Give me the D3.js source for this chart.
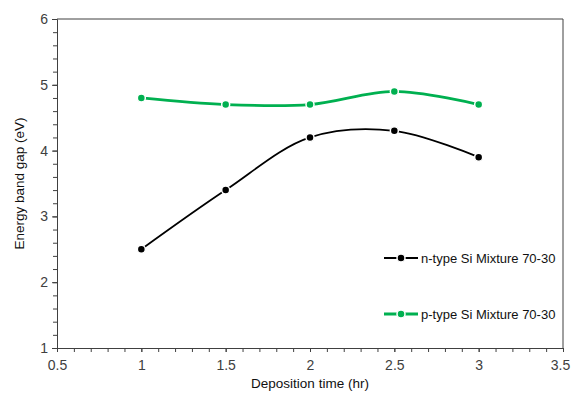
<!DOCTYPE html>
<html>
<head>
<meta charset="utf-8">
<script src="https://cdn.jsdelivr.net/npm/d3@7"></script>
<style>
  body { margin: 0; background: #fff; }
  text { font-family: "Liberation Sans", Arial, sans-serif; }
</style>
</head>
<body>
<div id="chart"></div>
<script>
// data
const times = [1, 1.5, 2, 2.5, 3];
const nType = [2.5, 3.4, 4.2, 4.3, 3.9];
const pType = [4.8, 4.7, 4.7, 4.9, 4.7];
const seriesNames = ['n-type Si Mixture 70-30', 'p-type Si Mixture 70-30'];
const xTicks = [0.5, 1, 1.5, 2, 2.5, 3, 3.5];
const yTicks = [1, 2, 3, 4, 5, 6];

const width = 572, height = 394;
const margin = { top: 19, right: 9, bottom: 46, left: 57 };

const svg = d3.select('#chart').append('svg')
  .attr('width', width)
  .attr('height', height);

const x = d3.scaleLinear().domain([0.5, 3.5]).range([margin.left, width - margin.right]);
const y = d3.scaleLinear().domain([1, 6]).range([height - margin.bottom, margin.top]);

// frame (top + right)
svg.append('path')
  .attr('d', `M${x(0.5)},${y(6)}H${x(3.5)}V${y(1)}`)
  .attr('fill', 'none')
  .attr('stroke', '#404040')
  .attr('stroke-width', 1);

// minor ticks
const xMinor = d3.range(0.5, 3.5001, 0.1);
const yMinor = d3.range(1, 6.0001, 0.2);

const xAxis = svg.append('g')
  .attr('transform', `translate(0,${y(1)})`)
  .call(d3.axisBottom(x).tickValues(xMinor).tickSize(4).tickFormat(''));
xAxis.append('g')
  .call(d3.axisBottom(x).tickValues(xTicks).tickSize(4).tickFormat(d3.format('')))
  .call(g => g.select('.domain').remove());

const yAxis = svg.append('g')
  .attr('transform', `translate(${x(0.5)},0)`)
  .call(d3.axisLeft(y).tickValues(yMinor).tickSize(4).tickFormat(''));
yAxis.append('g')
  .call(d3.axisLeft(y).tickValues(yTicks).tickSize(5).tickFormat(d3.format('')))
  .call(g => g.select('.domain').remove());

svg.selectAll('.domain').attr('stroke', '#404040');
svg.selectAll('.tick line').attr('stroke', '#404040');
svg.selectAll('.tick text')
  .attr('fill', '#404040')
  .style('font-size', '14px')
  .style('font-family', '"Liberation Sans", Arial, sans-serif');
xAxis.selectAll('.tick text').attr('dy', '1.05em');
xAxis.selectAll('.tick text').filter(d => d === 3.5).attr('dx', '-3px');
yAxis.selectAll('.tick text').attr('dx', '-1px');

// axis titles
svg.append('text')
  .attr('x', (x(0.5) + x(3.5)) / 2)
  .attr('y', 388)
  .attr('text-anchor', 'middle')
  .style('font-size', '13.5px')
  .attr('fill', '#111')
  .text('Deposition time (hr)');

svg.append('text')
  .attr('transform', `translate(24,${(y(1) + y(6)) / 2}) rotate(-90)`)
  .attr('text-anchor', 'middle')
  .style('font-size', '13.5px')
  .attr('fill', '#111')
  .text('Energy band gap (eV)');

const series = [
  { name: seriesNames[0], values: nType, color: '#000000', width: 1.8 },
  { name: seriesNames[1], values: pType, color: '#00b050', width: 2.8 }
];

const line = d3.line()
  .x((d, i) => x(times[i]))
  .y(d => y(d))
  .curve(d3.curveCatmullRom.alpha(0.5));

series.forEach(s => {
  svg.append('path')
    .datum(s.values)
    .attr('fill', 'none')
    .attr('stroke', s.color)
    .attr('stroke-width', s.width)
    .attr('d', line);

  svg.selectAll(null)
    .data(s.values)
    .enter().append('circle')
    .attr('cx', (d, i) => x(times[i]))
    .attr('cy', d => y(d))
    .attr('r', 4)
    .attr('fill', s.color)
    .attr('stroke', '#fff')
    .attr('stroke-width', 1.5);
});

// legend
const legend = svg.selectAll('.legend')
  .data(series)
  .enter().append('g')
  .attr('class', 'legend')
  .attr('transform', (d, i) => `translate(384,${258 + i * 56})`);

legend.append('line')
  .attr('x1', 0).attr('x2', 34)
  .attr('stroke', d => d.color)
  .attr('stroke-width', d => d.width);
legend.append('circle')
  .attr('cx', 17)
  .attr('r', 4)
  .attr('fill', d => d.color)
  .attr('stroke', '#fff')
  .attr('stroke-width', 1.5);
legend.append('text')
  .attr('x', 37)
  .attr('dy', '0.35em')
  .style('font-size', '13px')
  .attr('fill', '#111')
  .text(d => d.name);
</script>
</body>
</html>
